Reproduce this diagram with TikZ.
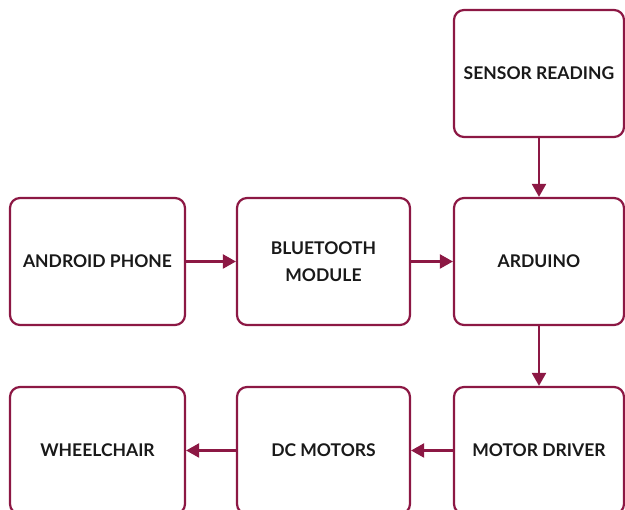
\documentclass[tikz,border=0pt]{standalone}
\usepackage{fontspec}
\setmainfont{Lato}
\usetikzlibrary{arrows.meta}
\definecolor{edge}{RGB}{140,24,68}
\definecolor{txt}{RGB}{25,25,25}
\tikzset{
  blockbox/.style={draw=edge, line width=2.2pt, rounded corners=10pt, fill=white,
    minimum height=127pt, inner sep=2pt, align=center, text=txt,
    font=\fontsize{17.5}{27}\selectfont\bfseries},
  flow/.style={draw=edge, line width=2.2pt, -{Triangle[length=13pt,width=14pt]}}
}
\begin{document}
\begin{tikzpicture}[x=1pt,y=1pt]
\useasboundingbox (0,0) rectangle (625,-510);
\clip (0,0) rectangle (625,-510);
\node[blockbox, minimum width=170pt] (sensor) at (539,-73.5) {SENSOR READING};
\node[blockbox, minimum width=175pt] (android) at (97.5,-261.5) {ANDROID PHONE};
\node[blockbox, minimum width=173pt] (bt) at (323.5,-261.5) {BLUETOOTH\\MODULE};
\node[blockbox, minimum width=170pt] (arduino) at (539,-261.5) {ARDUINO};
\node[blockbox, minimum width=175pt] (wheel) at (97.5,-450.5) {WHEELCHAIR};
\node[blockbox, minimum width=173pt] (dc) at (323.5,-450.5) {DC MOTORS};
\node[blockbox, minimum width=170pt] (driver) at (539,-450.5) {MOTOR DRIVER};
\draw[flow] (sensor) -- (arduino);
\draw[flow] (android) -- (bt);
\draw[flow] (bt) -- (arduino);
\draw[flow] (arduino) -- (driver);
\draw[flow] (driver) -- (dc);
\draw[flow] (dc) -- (wheel);
\end{tikzpicture}
\end{document}
